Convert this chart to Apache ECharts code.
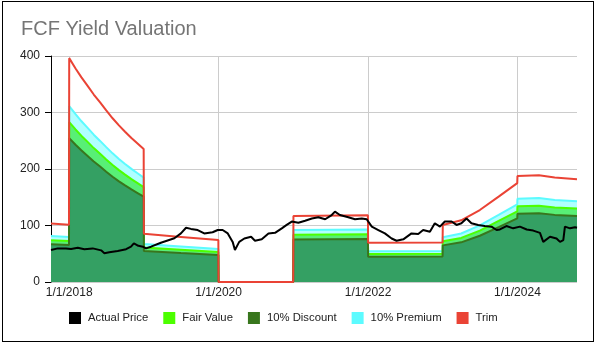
<!DOCTYPE html>
<html>
<head>
<meta charset="utf-8">
<script src="https://cdn.jsdelivr.net/npm/echarts@6/dist/echarts.min.js"></script>
<style>
  html, body { margin: 0; padding: 0; background: #fff; }
  #chart { position: absolute; left: 0; top: 0; width: 594px; height: 343px; }
  #frame { position: absolute; left: 2px; top: 1px; width: 592px; height: 341px; box-sizing: border-box; border: 1px solid #000; pointer-events: none; }
</style>
</head>
<body>
<div id="chart"></div>
<div id="frame"></div>
<script>
// ---- Data ----
const title = 'FCF Yield Valuation';
const xTickLabels = ['2018-01-01', '2020-01-01', '2022-01-01', '2024-01-01'];
const axisStart = '2017-10-04';
const axisEnd = '2024-10-18';

const priceDates = ['2017-10-04','2017-11-06','2017-12-16','2018-01-10','2018-02-12','2018-03-16','2018-04-26','2018-06-06','2018-06-22','2018-07-16','2018-08-26','2018-10-06','2018-10-30','2018-11-13','2018-12-05','2018-12-27','2019-01-11','2019-02-05','2019-03-25','2019-05-30','2019-07-01','2019-07-26','2019-08-19','2019-09-21','2019-10-23','2019-12-03','2019-12-28','2020-01-21','2020-02-15','2020-03-10','2020-03-21','2020-04-11','2020-05-06','2020-06-08','2020-06-27','2020-07-30','2020-09-01','2020-10-03','2020-11-05','2020-11-29','2020-12-24','2021-01-25','2021-02-27','2021-04-01','2021-05-03','2021-06-05','2021-07-07','2021-07-23','2021-08-16','2021-09-26','2021-10-29','2021-12-01','2021-12-25','2022-01-19','2022-02-20','2022-03-24','2022-04-26','2022-05-20','2022-06-22','2022-08-01','2022-09-03','2022-09-27','2022-10-30','2022-11-23','2022-12-18','2023-01-11','2023-02-13','2023-03-09','2023-04-02','2023-04-27','2023-05-21','2023-06-23','2023-07-25','2023-08-27','2023-09-21','2023-10-07','2023-11-08','2023-12-11','2024-01-13','2024-02-15','2024-03-18','2024-04-20','2024-05-06','2024-06-08','2024-07-10','2024-07-27','2024-08-12','2024-08-20','2024-09-14','2024-10-08','2024-10-18'];
const actualPrice = [56.5,59.5,59.5,58.5,60.5,58,59.5,56,51,52.5,55,58,62.5,68.5,64,62.5,59.5,62.5,69.5,77.5,86,96,94,92,86,88,92,92,86,71,56.5,71,77,80,73,75.5,86,87,95,101,107,105,108.5,112.5,114.5,111,118.5,124.5,118.5,114.5,111,112.5,111,98,92,86,77,73,75.5,86,85,92,89,104,98,107,107,101,104,112.5,104,101,99,98,92,93,99,95,98,93,91,87,71,80,77,71,74,98,95,97,96];

const valuationDates = ['2017-10-04','2017-12-31','2018-01-01','2018-02-01','2018-03-01','2018-04-01','2018-05-01','2018-06-01','2018-07-01','2018-08-01','2018-09-01','2018-10-01','2018-11-01','2018-12-01','2018-12-31','2019-01-01','2019-07-01','2019-12-31','2020-01-01','2020-12-31','2021-01-01','2021-12-31','2022-01-01','2022-12-31','2023-01-01','2023-04-01','2023-07-01','2023-10-01','2023-12-31','2024-01-01','2024-04-15','2024-07-01','2024-10-18'];
const fairValue   = [74,72.5,283,270,259,248,237,227,217,207,198,190,182,175,168,61,57,53,0,0,83.5,84.5,49.5,50,72,78,91,108,125,134,135,132,130];
const discount10  = [66.6,65.3,254.7,243,233.1,223.2,213.3,204.3,195.3,186.3,178.2,171,163.8,157.5,151.2,54.9,51.3,47.7,0,0,75.2,76.1,44.6,45,64.8,70.2,81.9,97.2,112.5,120.6,121.5,118.8,117];
const premium10   = [81.4,79.8,311.3,297,284.9,272.8,260.7,249.7,238.7,227.7,217.8,209,200.2,192.5,184.8,67.1,62.7,58.3,0,0,91.9,93,54.5,55,79.2,85.8,100.1,118.8,137.5,147.4,148.5,145.2,143];
const trim        = [103.6,101.5,396.2,378,362.6,347.2,331.8,317.8,303.8,289.8,277.2,266,254.8,245,235.2,85.4,79.8,74.2,0,0,116.9,118.3,69.3,70,100.8,109.2,127.4,151.2,175,187.6,189,184.8,182];
const yTicks = [0, 100, 200, 300, 400];

// ---- Chart ----
const FONT = '"Liberation Sans", Arial, sans-serif';
const ts = d => Date.UTC(+d.slice(0, 4), +d.slice(5, 7) - 1, +d.slice(8, 10));
const pair = (dates, vals) => dates.map((d, i) => [ts(d), vals[i]]);
const chart = echarts.init(document.getElementById('chart'), null, { renderer: 'canvas' });

chart.setOption({
  animation: false,
  backgroundColor: '#fff',
  textStyle: { fontFamily: FONT },
  title: {
    text: title, left: 21, top: 19, padding: 0,
    textStyle: { fontFamily: FONT, fontSize: 20, fontWeight: 'normal', color: '#757575' }
  },
  legend: {
    left: 69, top: 312, padding: 0, itemWidth: 12, itemHeight: 12, itemGap: 15, icon: 'rect',
    textStyle: { fontFamily: FONT, fontSize: 11.3, color: '#222', padding: [0, 0, 0, 2] },
    data: ['Actual Price', 'Fair Value', '10% Discount', '10% Premium', 'Trim']
  },
  grid: { left: 51, right: 17, top: 56, bottom: 61, containLabel: false },
  xAxis: {
    type: 'value',
    min: ts(axisStart), max: ts(axisEnd),
    axisLine: { show: false },
    axisTick: { show: false, customValues: xTickLabels.map(ts) },
    axisLabel: {
      customValues: xTickLabels.map(ts),
      fontFamily: FONT, fontSize: 12, color: '#222', margin: 5,
      formatter: v => { const d = new Date(v); return (d.getUTCMonth() + 1) + '/' + d.getUTCDate() + '/' + d.getUTCFullYear(); }
    },
    splitLine: { show: true, lineStyle: { color: '#cccccc', width: 1 } }
  },
  yAxis: {
    type: 'value', min: yTicks[0], max: yTicks[yTicks.length - 1], interval: 100,
    axisLine: { show: true, lineStyle: { color: '#000', width: 1 } },
    axisTick: { show: true, length: 6, lineStyle: { color: '#000' } },
    axisLabel: { fontFamily: FONT, fontSize: 12, color: '#222', margin: 11 },
    splitLine: { show: true, lineStyle: { color: '#cccccc', width: 1 } }
  },
  series: [
    {
      name: 'Actual Price', type: 'line', z: 7, showSymbol: false, symbol: 'none',
      color: '#000000', lineStyle: { color: '#000000', width: 2 },
      data: pair(priceDates, actualPrice)
    },
    {
      name: 'Fair Value', type: 'line', z: 4, showSymbol: false, symbol: 'none',
      color: '#4cff00', lineStyle: { color: '#4cff00', width: 2 },
      areaStyle: { color: '#58ef76', opacity: 1 },
      data: pair(valuationDates, fairValue)
    },
    {
      name: '10% Discount', type: 'line', z: 5, showSymbol: false, symbol: 'none',
      color: '#38761d', lineStyle: { color: '#38761d', width: 2 },
      areaStyle: { color: '#34a063', opacity: 1 },
      data: pair(valuationDates, discount10)
    },
    {
      name: '10% Premium', type: 'line', z: 3, showSymbol: false, symbol: 'none',
      color: '#5cfbff', lineStyle: { color: '#5cfbff', width: 2 },
      areaStyle: { color: '#b0ffff', opacity: 1 },
      data: pair(valuationDates, premium10)
    },
    {
      name: 'Trim', type: 'line', z: 6, showSymbol: false, symbol: 'none',
      color: '#ea4335', lineStyle: { color: '#ea4335', width: 2 },
      data: pair(valuationDates, trim)
    }
  ]
});
</script>
</body>
</html>
